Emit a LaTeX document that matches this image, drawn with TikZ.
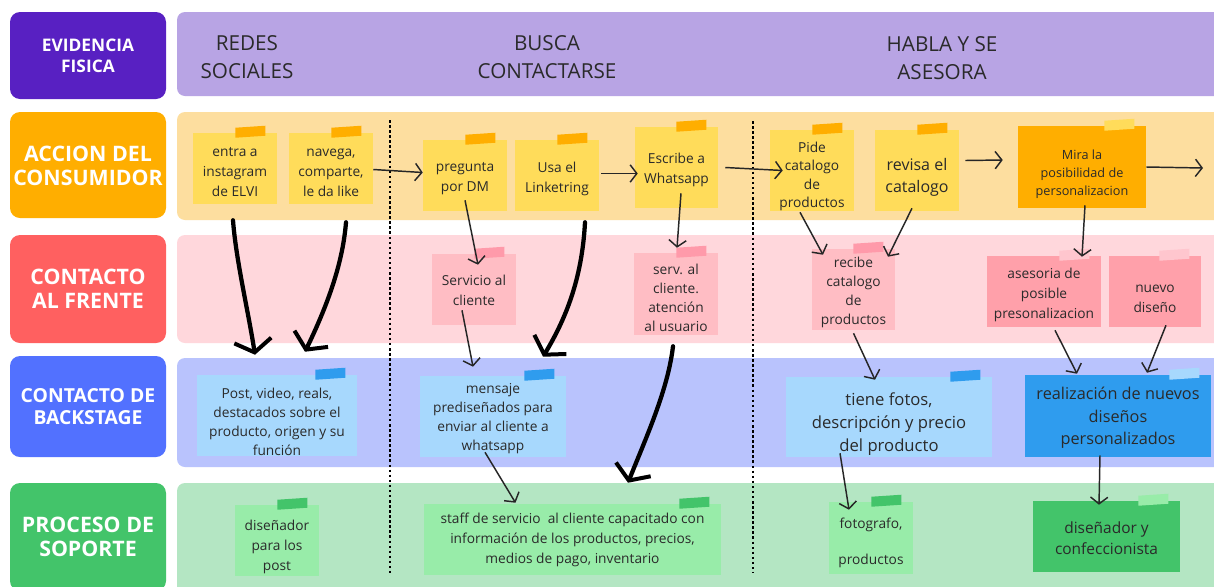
\documentclass[tikz,border=0pt]{standalone}
\usepackage{fontspec}
\setmainfont{Open Sans}
\usetikzlibrary{arrows.meta,calc}
\definecolor{cEvid}{HTML}{5820C2}
\definecolor{cEvidL}{HTML}{B8A4E4}
\definecolor{cAcc}{HTML}{FFAE00}
\definecolor{cAccL}{HTML}{FDDE9F}
\definecolor{cFre}{HTML}{FF6060}
\definecolor{cFreL}{HTML}{FFD7DC}
\definecolor{cBack}{HTML}{5271FF}
\definecolor{cBackL}{HTML}{B9C3FD}
\definecolor{cSop}{HTML}{43C46A}
\definecolor{cSopL}{HTML}{B4E6C3}
\definecolor{yNote}{HTML}{FFDC5A}
\definecolor{yTape}{HTML}{FFAE00}
\definecolor{pNote}{HTML}{FFBDC4}
\definecolor{pTape}{HTML}{FF9AAA}
\definecolor{pNoteD}{HTML}{FFA0AA}
\definecolor{pTapeD}{HTML}{FFC6CE}
\definecolor{bNote}{HTML}{A7D8FD}
\definecolor{bTape}{HTML}{2F9CEE}
\definecolor{gNote}{HTML}{98ECA9}
\definecolor{txt}{HTML}{2A2A2A}
\newcommand\tapeon[2]{\fill[#2] ($(#1.north east)+(-42,-5)$) -- ++(30,-2) -- ++(0,10) -- ++(-30,2) -- cycle;}
% name, x1, y1, x2, y2, style, text, text drop (px)
\newcommand\boxnode[8]{%
  \node[#6, minimum width={(#4-#2)*0.75pt}, minimum height={(#5-#3)*0.75pt}] (#1) at ({(#2+#4)/2},{(#3+#5)/2}) {};
  \node[#6, fill=none, minimum width=0pt, minimum height=0pt] (#1t) at ($(#1.center)+(0,#8)$) {#7};}
\begin{document}
\begin{tikzpicture}[x=0.75pt,y=-0.75pt,
  lbl/.style={inner sep=0pt, rounded corners=7.5pt, align=center, text=white, font=\bfseries\fontsize{16}{18}\selectfont},
  lane/.style={rounded corners=6pt},
  hdr/.style={align=center, text=txt, font=\fontsize{15.5}{21.5}\selectfont},
  note/.style={inner sep=0pt, align=center, text=txt, font=\fontsize{10.3}{15}\selectfont},
  dotline/.style={line width=2pt, dash pattern=on 1.9pt off 1.9pt},
  thin/.style={line width=1.1pt, draw=black!85, -{Straight Barb[length=5pt,width=13pt]}},
  thick/.style={line width=3.2pt, line cap=round, -{Straight Barb[length=9pt,width=28pt,line width=3pt]}}
]
\useasboundingbox (0,0) rectangle (1214,586);
\clip (0,0) rectangle (1214,586);
\fill[white] (0,0) rectangle (1214,586);
% lanes
\fill[lane, cEvidL] (177,12) rectangle (1240,96);
\fill[lane, cAccL] (177,112) rectangle (1240,220);
\fill[lane, cFreL] (177,235) rectangle (1240,343);
\fill[lane, cBackL] (177,358) rectangle (1240,467);
\fill[lane, cSopL] (177,483) rectangle (1240,610);
% left labels
\boxnode{L1}{10}{12}{166}{99}{lbl, fill=cEvid, font=\bfseries\fontsize{13}{15.5}\selectfont}{EVIDENCIA\\FISICA}{0}
\boxnode{L2}{10}{112}{166}{218}{lbl, fill=cAcc}{ACCION DEL\\CONSUMIDOR}{1}
\boxnode{L3}{10}{235}{166}{343}{lbl, fill=cFre}{CONTACTO\\AL FRENTE}{0}
\boxnode{L4}{10}{356}{166}{457}{lbl, fill=cBack, font=\bfseries\fontsize{14.5}{16.5}\selectfont}{CONTACTO DE\\BACKSTAGE}{0}
\boxnode{L5}{10}{483}{166}{591}{lbl, fill=cSop}{PROCESO DE\\SOPORTE}{0}
% headers
\node[hdr] (h1) at (247,57) {REDES\\SOCIALES};
\node[hdr] (h2) at (547,57) {BUSCA\\CONTACTARSE};
\node[hdr] (h3) at (942,58) {HABLA Y SE\\ASESORA};
% dotted separators
\draw[dotline] (390,120) -- (390,573);
\draw[dotline] (753,121) -- (753,572);
% action notes
\boxnode{n1}{193}{133}{277}{204}{note, fill=yNote}{entra a\\instagram\\de ELVI}{4}
\boxnode{n2}{289}{133}{373}{204}{note, fill=yNote}{navega,\\comparte,\\le da like}{4}
\boxnode{n3}{423}{140}{507}{211}{note, fill=yNote}{pregunta\\por DM}{3}
\boxnode{n4}{515}{140}{599}{211}{note, fill=yNote}{Usa el\\Linketring}{3}
\boxnode{n5}{635}{127}{718}{208}{note, fill=yNote}{Escribe a\\Whatsapp}{2}
\boxnode{n6}{770}{130}{854}{211}{note, fill=yNote, font=\fontsize{10.3}{13.8}\selectfont}{Pide\\catalogo\\de\\productos}{6}
\boxnode{n7}{875}{130}{959}{211}{note, fill=yNote, font=\fontsize{12}{16.5}\selectfont}{revisa el\\catalogo}{7}
\boxnode{n8}{1018}{126}{1146}{208}{note, fill=cAcc, font=\fontsize{9.5}{13.5}\selectfont}{Mira la\\posibilidad de\\personalizacion}{7}
\tapeon{n1}{yTape}\tapeon{n2}{yTape}\tapeon{n3}{yTape}\tapeon{n4}{yTape}
\tapeon{n5}{yTape}\tapeon{n6}{yTape}\tapeon{n7}{yTape}\tapeon{n8}{yNote}
% front notes
\boxnode{p1}{432}{254}{516}{325}{note, fill=pNote}{Servicio al\\cliente}{1}
\boxnode{p2}{634}{253}{718}{335}{note, fill=pNote, font=\fontsize{10.3}{14.2}\selectfont}{serv. al\\cliente.\\atención\\al usuario}{4}
\boxnode{p3}{812}{249}{895}{330}{note, fill=pNote, font=\fontsize{10.3}{14.2}\selectfont}{recibe\\catalogo\\de\\productos}{3}
\boxnode{p4}{987}{256}{1101}{327}{note, fill=pNoteD}{asesoria de\\posible\\presonalizacion}{3}
\boxnode{p5}{1109}{256}{1201}{327}{note, fill=pNoteD}{nuevo\\diseño}{7}
\tapeon{p1}{pTape}\tapeon{p2}{pTape}\tapeon{p3}{pTape}\tapeon{p4}{pTapeD}\tapeon{p5}{pTapeD}
% backstage notes
\boxnode{b1}{197}{375}{357}{456}{note, fill=bNote, font=\fontsize{10.3}{14.2}\selectfont}{Post, video, reals,\\destacados sobre el\\producto, origen y su\\función}{6}
\boxnode{b2}{420}{376}{566}{457}{note, fill=bNote, font=\fontsize{10.3}{14.2}\selectfont}{mensaje\\prediseñados para\\enviar al cliente a\\whatsapp}{2}
\boxnode{b3}{786}{377}{992}{457}{note, fill=bNote, font=\fontsize{12.5}{17}\selectfont}{tiene fotos,\\descripción y precio\\del producto}{7}
\boxnode{b4}{1025}{375}{1211}{457}{note, fill=bTape, font=\fontsize{12.2}{17}\selectfont}{realización de nuevos\\diseños\\personalizados}{2}
\tapeon{b1}{bTape}\tapeon{b2}{bTape}\tapeon{b3}{bTape}\tapeon{b4}{bNote}
% support notes
\boxnode{g1}{235}{505}{319}{576}{note, fill=gNote}{diseñador\\para los\\post}{6}
\boxnode{g2}{424}{504}{721}{575}{note, fill=gNote}{staff de servicio\ \ al cliente capacitado con\\información de los productos, precios,\\medios de pago, inventario}{0}
\boxnode{g3}{829}{502}{913}{574}{note, fill=gNote}{fotografo,\\[12pt]productos}{5}
\boxnode{g4}{1033}{501}{1180}{572}{note, fill=cSop, font=\fontsize{11.6}{15.5}\selectfont}{diseñador y\\confeccionista}{2}
\tapeon{g1}{cSop}\tapeon{g2}{cSop}\tapeon{g3}{cSop}\tapeon{g4}{gNote}
% horizontal flow arrows
\coordinate (out) at (1203,168);
\draw[thin] ($(n2.east)+(0,1)$) -- ($(n3.west)+(0,-3)$);
\draw[thin] ($(n4.east)+(2,-2)$) -- ($(n5.west)+(3,6)$);
\draw[thin] ($(n5.east)+(7,0)$) -- ($(n6.west)+(13,0)$);
\draw[thin] ($(n7.east)+(6,-10)$) -- ($(n8.west)+(-15,-7)$);
\draw[thin] ($(n8.east)+(0,0)$) -- (out);
% vertical thin arrows
\draw[thin] ($(n3.south)+(0,-11)$) -- ($(p1.north)+(4,11)$);
\draw[thin] ($(p1.south)+(-12,-15)$) -- ($(b2.north)+(-20,-9)$);
\draw[thin] ($(b2.south)+(-8,-5)$) -- ($(g2.north)+(-57,-1)$);
\draw[thin] ($(n5.south)+(4.5,-15)$) -- ($(p2.north)+(1,-5)$);
\draw[thin] ($(n6.south)+(-12,1)$) -- ($(p3.north)+(-30.5,6)$);
\draw[thin] ($(n7.south)+(-5,-3)$) -- ($(p3.north)+(34.5,8)$);
\draw[thin] ($(n8.south)+(3,-3)$) -- ($(p4.north)+(38,1)$);
\draw[thin] ($(p3.south)+(0,3)$) -- ($(b3.north)+(-14,3)$);
\draw[thin] ($(p4.south)+(11,3)$) -- ($(b4.north)+(-41,-1)$);
\draw[thin] ($(p5.south)+(11,-2)$) -- ($(b4.north)+(29,-2)$);
\draw[thin] ($(b3.south)+(-49,-4)$) -- ($(g3.north)+(-22,8)$);
\draw[thin] ($(b4.south)+(-18,-2)$) -- ($(g4.north)+(-7.5,4)$);
% thick hand-drawn arrows
\draw[thick] ($(n1.south)+(-2,16)$) .. controls (236,260) and (248,310) .. ($(b1.north)+(-22,-20)$);
\draw[thick] ($(n2.south)+(15,18)$) .. controls (343,260) and (330,300) .. ($(b1.north)+(28,-23)$);
\draw[thick] ($(n4.south)+(28,11)$) .. controls (582,280) and (565,320) .. ($(b2.north)+(50,-19)$);
\draw[thick] ($(p2.south)+(-3,11)$) .. controls (668,390) and (645,440) .. ($(g2.north)+(55.5,-21)$);
\end{tikzpicture}
\end{document}
